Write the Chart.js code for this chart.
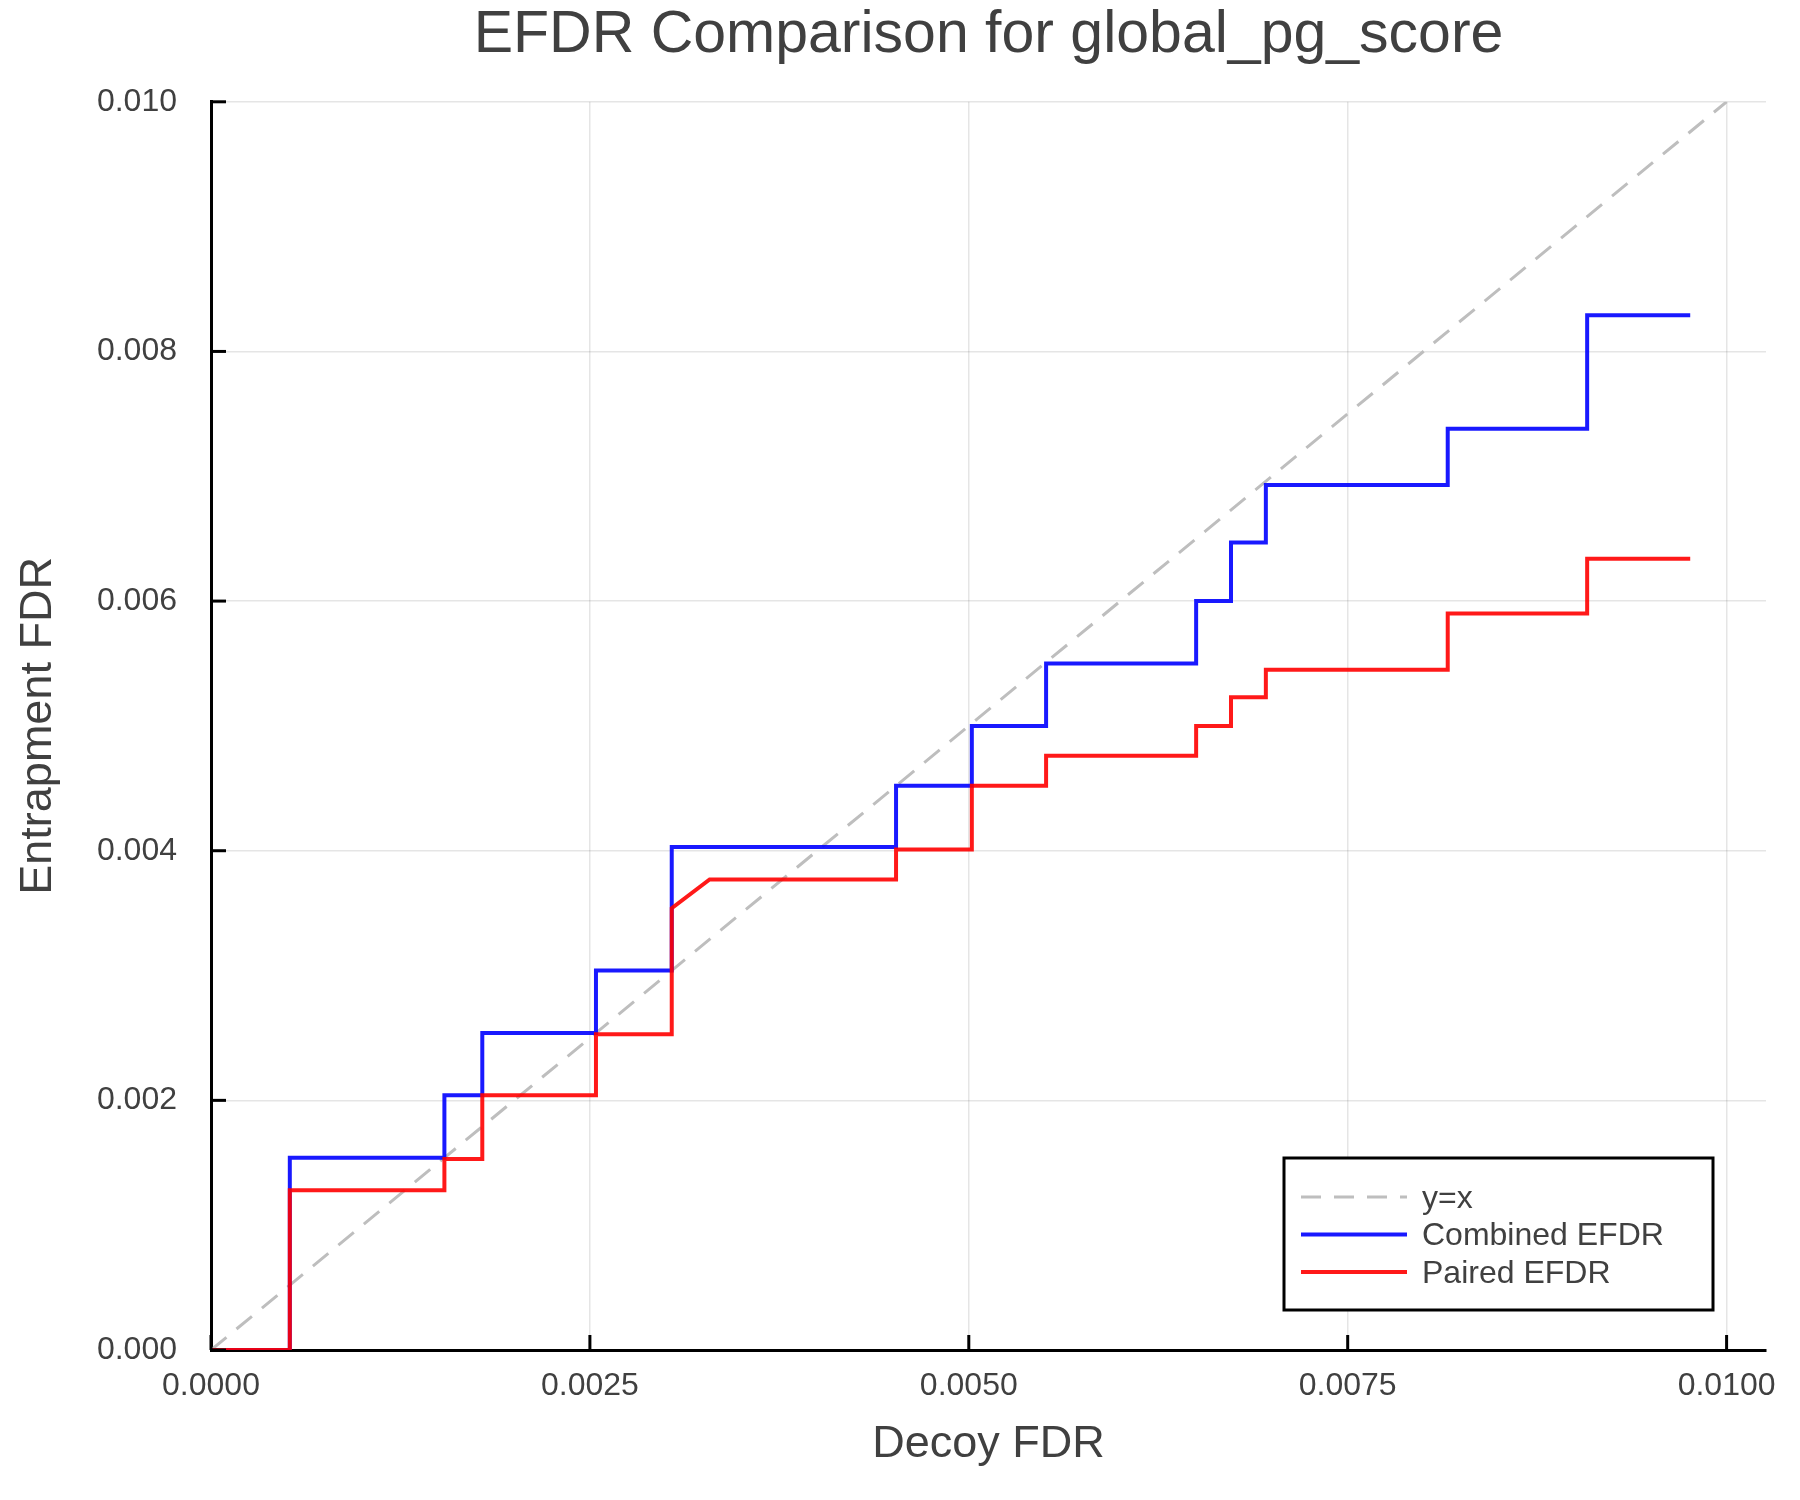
<!DOCTYPE html>
<html>
<head>
<meta charset="utf-8">
<script src="https://cdn.jsdelivr.net/npm/chart.js@4"></script>
<style>
  body { margin: 0; background: #fff; }
</style>
</head>
<body>
<canvas id="efdrChart" width="1800" height="1500"></canvas>
<script>
let decoyFdr = [0, 0.00052, 0.00052, 0.00154, 0.00154, 0.00179, 0.00179, 0.00254, 0.00254, 0.00304, 0.00304, 0.00329, 0.00452, 0.00452, 0.00502, 0.00502, 0.00551, 0.00551, 0.00650, 0.00650, 0.00673, 0.00673, 0.00696, 0.00696, 0.00816, 0.00816, 0.00908, 0.00908, 0.00976]
let combinedEfdr = [0, 0, 0.00154, 0.00154, 0.00204, 0.00204, 0.00254, 0.00254, 0.00304, 0.00304, 0.00403, 0.00403, 0.00403, 0.00452, 0.00452, 0.00500, 0.00500, 0.00550, 0.00550, 0.00600, 0.00600, 0.00647, 0.00647, 0.00693, 0.00693, 0.00738, 0.00738, 0.00829, 0.00829]
let pairedEfdr = [0, 0, 0.00128, 0.00128, 0.00153, 0.00153, 0.00204, 0.00204, 0.00253, 0.00253, 0.00354, 0.00377, 0.00377, 0.00401, 0.00401, 0.00452, 0.00452, 0.00476, 0.00476, 0.00500, 0.00500, 0.00523, 0.00523, 0.00545, 0.00545, 0.00590, 0.00590, 0.00634, 0.00634]
let identityLine = [0, 0.01]
let xTicks = [0, 0.0025, 0.005, 0.0075, 0.01]
let yTicks = [0, 0.002, 0.004, 0.006, 0.008, 0.01]

const textColor = "#404040"
const font = "'Liberation Sans', Arial, sans-serif"

function points(xs, ys) {
	let out = []
	for(let i = 0; i < xs.length; ++i) {
		out.push({x: xs[i], y: ys[i]})
	}
	return out
}

// Plots.jl style: ticks point into the plot, legend box in the lower right corner
const innerTicks = {
	id: 'innerTicks',
	afterDatasetsDraw(chart) {
		let ctx = chart.ctx
		let area = chart.chartArea
		ctx.save()
		ctx.strokeStyle = "#000"
		ctx.lineWidth = 3
		chart.scales.x.ticks.forEach(t => {
			let px = chart.scales.x.getPixelForValue(t.value)
			ctx.beginPath()
			ctx.moveTo(px, area.bottom)
			ctx.lineTo(px, area.bottom - 15)
			ctx.stroke()
		})
		chart.scales.y.ticks.forEach(t => {
			let py = chart.scales.y.getPixelForValue(t.value)
			ctx.beginPath()
			ctx.moveTo(area.left, py)
			ctx.lineTo(area.left + 15, py)
			ctx.stroke()
		})
		ctx.restore()
	}
}

const boxLegend = {
	id: 'boxLegend',
	afterDraw(chart) {
		let ctx = chart.ctx
		let area = chart.chartArea
		let w = 429, h = 152
		let left = area.right - 53 - w
		let top = area.bottom - 40 - h
		ctx.save()
		ctx.fillStyle = "#fff"
		ctx.fillRect(left, top, w, h)
		ctx.strokeStyle = "#000"
		ctx.lineWidth = 3
		ctx.strokeRect(left, top, w, h)
		ctx.font = "32px " + font
		ctx.textBaseline = "middle"
		ctx.textAlign = "left"
		chart.data.datasets.forEach((ds, i) => {
			let y = top + 39 + i * 37.5
			ctx.beginPath()
			ctx.setLineDash(ds.borderDash || [])
			ctx.strokeStyle = ds.borderColor
			ctx.lineWidth = ds.borderWidth
			ctx.moveTo(left + 17, y)
			ctx.lineTo(left + 123, y)
			ctx.stroke()
			ctx.setLineDash([])
			ctx.fillStyle = textColor
			ctx.fillText(ds.label, left + 138, y + 2)
		})
		ctx.restore()
	}
}

new Chart(document.getElementById('efdrChart'), {
	'type': 'scatter',
	'data': {
		'datasets': [{
			'label': "y=x",
			'data': points(identityLine, identityLine),
			'showLine': true,
			'borderColor': "rgb(190, 190, 190)",
			'borderWidth': 3,
			'borderDash': [20, 13],
			'pointRadius': 0,
			'order': 2
		}, {
			'label': "Combined EFDR",
			'data': points(decoyFdr, combinedEfdr),
			'showLine': true,
			'borderColor': "rgba(0, 0, 255, 0.9)",
			'borderWidth': 4,
			'borderJoinStyle': 'miter',
			'pointRadius': 0,
			'order': 1
		}, {
			'label': "Paired EFDR",
			'data': points(decoyFdr, pairedEfdr),
			'showLine': true,
			'borderColor': "rgba(255, 0, 0, 0.9)",
			'borderWidth': 4,
			'borderJoinStyle': 'miter',
			'pointRadius': 0,
			'order': 0
		}]
	},
	'options': {
		'responsive': false,
		'animation': false,
		'devicePixelRatio': 1,
		'layout': { 'padding': { 'left': 0, 'right': 34, 'top': 0, 'bottom': 0 } },
		'plugins': {
			'legend': { 'display': false },
			'tooltip': { 'enabled': false },
			'title': {
				'display': true,
				'fullSize': false,
				'text': "EFDR Comparison for global_pg_score",
				'color': textColor,
				'font': { 'family': font, 'size': 59, 'weight': 'normal' },
				'padding': { 'top': 0, 'bottom': 31 }
			}
		},
		'scales': {
			'x': {
				'type': 'linear',
				'min': 0,
				'max': 0.01026,
				'afterBuildTicks': scale => { scale.ticks = xTicks.map(v => ({value: v})) },
				'afterFit': scale => { scale.height = 150 },
				'ticks': {
					'color': textColor,
					'font': { 'family': font, 'size': 32 },
					'padding': 17,
					'maxRotation': 0,
					'callback': v => v.toFixed(4)
				},
				'grid': { 'color': "rgba(0,0,0,0.1)", 'lineWidth': 1.5, 'drawTicks': false },
				'border': { 'display': true, 'color': "#000", 'width': 3 },
				'title': {
					'display': true,
					'text': "Decoy FDR",
					'color': textColor,
					'font': { 'family': font, 'size': 45 },
					'padding': { 'top': 0, 'bottom': 28 }
				}
			},
			'y': {
				'type': 'linear',
				'min': 0,
				'max': 0.01,
				'afterBuildTicks': scale => { scale.ticks = yTicks.map(v => ({value: v})) },
				'afterFit': scale => { scale.width = 211 },
				'ticks': {
					'color': textColor,
					'font': { 'family': font, 'size': 32 },
					'padding': 34,
					'callback': v => v.toFixed(3)
				},
				'grid': { 'color': "rgba(0,0,0,0.1)", 'lineWidth': 1.5, 'drawTicks': false },
				'border': { 'display': true, 'color': "#000", 'width': 3 },
				'title': {
					'display': true,
					'text': "Entrapment FDR",
					'color': textColor,
					'font': { 'family': font, 'size': 45 },
					'padding': { 'top': 12, 'bottom': 0 }
				}
			}
		}
	},
	'plugins': [innerTicks, boxLegend]
});
</script>
</body>
</html>
